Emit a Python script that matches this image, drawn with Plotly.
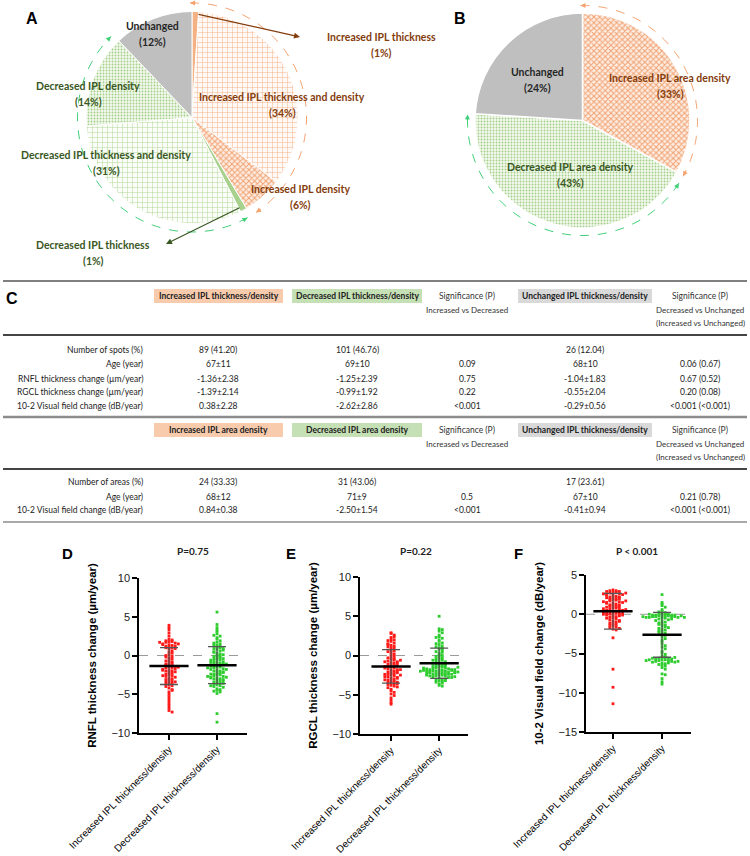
import math
import plotly.graph_objects as go

W, H = 750, 856

# ---------------- panel A / B : pie data ----------------
pieA_labels = ["Increased IPL thickness", "Increased IPL thickness and density", "Increased IPL density",
               "Decreased IPL thickness", "Decreased IPL thickness and density", "Decreased IPL density",
               "Unchanged"]
pieA_values = [1, 34, 6, 1, 31, 14, 12]
pieB_labels = ["Increased IPL area density", "Decreased IPL area density", "Unchanged"]
pieB_values = [33, 43, 24]

# ---------------- panel C : table ----------------
t1_head = ["Increased IPL thickness/density", "Decreased IPL thickness/density", "Unchanged IPL thickness/density"]
t1_rows = ["Number of spots (%)", "Age (year)", "RNFL thickness change (µm/year)",
           "RGCL thickness change (µm/year)", "10-2 Visual field change (dB/year)"]
t1_inc = ["89 (41.20)", "67±11", "-1.36±2.38", "-1.39±2.14", "0.38±2.28"]
t1_dec = ["101 (46.76)", "69±10", "-1.25±2.39", "-0.99±1.92", "-2.62±2.86"]
t1_p_id = ["", "0.09", "0.75", "0.22", "&lt;0.001"]
t1_unc = ["26 (12.04)", "68±10", "-1.04±1.83", "-0.55±2.04", "-0.29±0.56"]
t1_p_du = ["", "0.06 (0.67)", "0.67 (0.52)", "0.20 (0.08)", "&lt;0.001 (&lt;0.001)"]

t2_head = ["Increased IPL area density", "Decreased IPL area density", "Unchanged IPL thickness/density"]
t2_rows = ["Number of areas (%)", "Age (year)", "10-2 Visual field change (dB/year)"]
t2_inc = ["24 (33.33)", "68±12", "0.84±0.38"]
t2_dec = ["31 (43.06)", "71±9", "-2.50±1.54"]
t2_p_id = ["", "0.5", "&lt;0.001"]
t2_unc = ["17 (23.61)", "67±10", "-0.41±0.94"]
t2_p_du = ["", "0.21 (0.78)", "&lt;0.001 (&lt;0.001)"]

# ---------------- panels D-F : scatter dot plots ----------------
groups = ["Increased IPL thickness/density", "Decreased IPL thickness/density"]

rnfl_inc = [3.9, 3.6, 3.3, 2.9, 2.5, 2.1,
            2.0, 1.9, 1.8, 1.8, 1.7, 1.6, 1.5, 1.5, 1.4, 1.3,
            1.2, 1.1, 1.0, 1.0, 0.9, 0.8, 0.6, 0.4,
            0.3, 0.1, -0.1, -0.3, -0.4, -0.6,
            -0.8, -0.9, -1.0, -1.1, -1.2, -1.3, -1.3, -1.4,
            -1.5, -1.6, -1.6, -1.7, -1.8, -1.9, -2.0, -2.0, -2.1, -2.2,
            -2.3, -2.4, -2.5, -2.6, -2.7, -2.8, -2.9, -3.0,
            -3.1, -3.2, -3.3, -3.4, -3.5, -3.6, -3.7, -3.8,
            -3.9, -4.0, -4.2, -4.4, -4.7, -5.0, -5.3, -5.6,
            -5.9, -6.2, -6.5, -6.8, -7.1, -7.3,
            -0.2, -1.5, -2.6, 1.2, 1.7, 0.0, -3.4, -1.9, -4.5, 1.4, -0.7]
rnfl_dec = [5.6, 4.0, 3.6, 3.1, 2.8, 2.5, 2.3, 2.1, 1.9, 1.7,
            1.5, 1.3, 1.2, 1.1, 1.0, 0.9, 0.8, 0.6, 0.5, 0.3,
            0.2, 0.0, -0.1, -0.2, -0.3, -0.4, -0.5, -0.6, -0.7, -0.8,
            -0.9, -1.0, -1.0, -1.1, -1.2, -1.3, -1.4, -1.5, -1.5, -1.6,
            -1.7, -1.8, -1.9, -2.0, -2.0, -2.1, -2.2, -2.3, -2.4, -2.5,
            -2.5, -2.6, -2.7, -2.8, -2.9, -3.0, -3.0, -3.1, -3.2, -3.3,
            -3.4, -3.5, -3.6, -3.7, -3.8, -3.9, -4.0, -4.1, -4.3, -4.5,
            -4.7, -4.9, -7.5, -8.6,
            1.4, 0.7, -0.4, -1.2, -2.2, -2.8, -3.3, 1.6, -0.9, -1.8,
            2.6, -2.4, -3.6, -4.4, 0.4, -1.4, 3.3, -0.1, -2.7, -1.6,
            0.1, -3.9, -2.9, -1.1, 0.9, -4.6, -0.6]
rgcl_inc = [2.9, 2.8, 2.6, 2.3, 2.1, 2.0, 1.9, 1.8, 1.6, 1.5,
            1.3, 1.2, 1.0, 0.9, 0.7, 0.6, 0.4, 0.2, 0.1, -0.1,
            -0.2, -0.4, -0.5, -0.6, -0.7, -0.8, -0.9, -1.0, -1.1, -1.2,
            -1.3, -1.4, -1.5, -1.6, -1.7, -1.8, -1.9, -2.0, -2.1, -2.2,
            -2.3, -2.4, -2.5, -2.6, -2.7, -2.8, -2.9, -3.0, -3.1, -3.2,
            -3.3, -3.4, -3.5, -3.6, -3.7, -3.8, -3.9, -4.1, -4.3, -4.5,
            -4.7, -4.9, -5.1, -5.4, -5.7, -6.0, -6.2,
            -1.3, -2.0, -2.7, -3.4, -1.6, 0.5, 1.4, -0.3, -2.2, -2.9,
            -1.0, -3.1, -0.8, 1.1, -1.8, -2.5, -4.0, -0.6, -3.6, 2.4, -1.4, -2.4]
rgcl_dec = [5.0, 3.4, 3.3, 3.1, 2.9, 2.6, 2.4, 2.2, 2.0, 1.8,
            1.6, 1.4, 1.2, 1.0, 0.8, 0.7, 0.5, 0.3, 0.1, 0.0,
            -0.2, -0.3, -0.5, -0.6, -0.7, -0.8, -0.9, -1.0, -1.1, -1.2,
            -1.3, -1.4, -1.5, -1.5, -1.6, -1.6, -1.7, -1.7, -1.8, -1.8,
            -1.9, -1.9, -2.0, -2.0, -2.0, -2.1, -2.1, -2.2, -2.2, -2.3,
            -2.3, -2.4, -2.4, -2.5, -2.5, -2.6, -2.6, -2.7, -2.8, -2.9,
            -3.0, -3.1, -3.2, -3.3, -3.4, -3.6, -3.8, -3.9,
            -1.9, -2.0, -2.1, -1.7, -2.2, -2.4, -1.8, -2.6, -2.3, -1.6,
            -0.4, -1.1, 0.9, 1.5, -2.8, -3.0, -1.3, -0.1, 2.3, -2.5,
            -1.9, -2.1, -3.5, -1.4, 0.4, -2.7, -1.0, -2.2, 1.1, -3.2, -2.0, -1.5, -0.6]
vf_inc = [3.1, 3.0, 3.0, 2.9, 2.9, 2.8, 2.8, 2.7, 2.6, 2.5,
          2.5, 2.4, 2.3, 2.2, 2.2, 2.1, 2.0, 1.9, 1.8, 1.8,
          1.7, 1.6, 1.5, 1.5, 1.4, 1.3, 1.2, 1.1, 1.0, 1.0,
          0.9, 0.8, 0.8, 0.7, 0.6, 0.5, 0.5, 0.4, 0.4, 0.3,
          0.3, 0.2, 0.2, 0.1, 0.1, 0.0, 0.0, -0.1, -0.1, -0.2,
          -0.3, -0.4, -0.5, -0.6, -0.7, -0.8, -0.9, -1.0, -1.1, -1.2,
          -1.3, -1.4, -1.5, -1.6, -1.7, -1.8, -1.9, -2.0, -3.0, -7.0,
          -9.3, -11.4,
          2.6, 2.4, 2.0, 1.6, 1.2, 0.7, 0.3, 0.6, 1.4, 2.1, -0.2, -0.5, -0.9, 0.9, 1.7, 2.7, 0.0]
vf_dec = [2.5, 1.5, 1.3, 1.1, 0.9, 0.6, 0.4, 0.2, 0.1, 0.0,
          0.0, 0.0, -0.1, -0.1, -0.1, -0.2, -0.2, -0.2, -0.2, -0.3,
          -0.3, -0.3, -0.3, -0.4, -0.4, -0.4, -0.5, -0.5, -0.6, -0.7,
          -0.8, -0.9, -1.0, -1.1, -1.2, -1.4, -1.5, -1.6, -1.8, -1.9,
          -2.0, -2.1, -2.2, -2.4, -2.5, -2.7, -2.9, -3.1, -3.3, -3.5,
          -3.8, -4.0, -4.2, -4.4, -4.7, -4.9, -5.1, -5.3, -5.4, -5.5,
          -5.5, -5.6, -5.6, -5.7, -5.7, -5.8, -5.8, -5.9, -5.9, -6.0,
          -6.0, -6.1, -6.1, -6.2, -6.3, -6.4, -6.5, -6.6, -6.8, -7.0,
          -7.6, -7.7, -8.2, -8.6, -8.9,
          -0.1, -0.2, -0.3, 0.0, -0.4, -5.6, -5.8, -6.0, -5.5, -6.2, -1.3, -2.3, -0.6, 0.3, -1.7, -5.9]

# mean and SD bars come from the table
rnfl_mean, rnfl_sd = [-1.36, -1.25], [2.38, 2.39]
rgcl_mean, rgcl_sd = [-1.39, -0.99], [2.14, 1.92]
vf_mean, vf_sd = [0.38, -2.62], [2.28, 2.86]

# ---------------- helpers ----------------
def px(x):
    return x / W

def py(y):
    return 1 - y / H

ORANGE = "#F4B183"
GREEN = "#A9D18E"
GRAY = "#BFBFBF"
RED_TXT = "#843C0C"
GREEN_TXT = "#385723"
CAL = "Lato, Carlito, Calibri, sans-serif"
ARIAL = "Liberation Sans, Arial, sans-serif"

fig = go.Figure()
annotations = []
shapes = []

def note(x, y, text, size=10.5, color="black", bold=False, family=CAL, xanchor="center", **kw):
    annotations.append(dict(x=px(x), y=py(y), xref="paper", yref="paper", text=text, showarrow=False,
                            xanchor=xanchor, yanchor="middle",
                            font=dict(family=family, size=size, color=color, weight="bold" if bold else "normal"),
                            **kw))

# ---------------- pies ----------------
fig.add_trace(go.Pie(
    values=pieA_values, labels=pieA_labels, sort=False, direction="clockwise", rotation=0,
    textinfo="none", hoverinfo="label+percent", showlegend=False,
    domain=dict(x=[px(86), px(298)], y=[py(223.5), py(11.5)]),
    marker=dict(colors=[ORANGE, "white", "white", GREEN, "white", "white", GRAY],
                line=dict(color="white", width=1),
                pattern=dict(shape=["", "+", "x", "", "+", ".", ""],
                             fgcolor=[ORANGE, "#F6B48C", "#F2A373", GREEN, "#B5D99C", "#A3CF87", GRAY],
                             bgcolor=[ORANGE, "#FFFAF7", "#FDEDE3", GREEN, "#FAFDF8", "#F3F9EF", GRAY],
                             size=[8, 5, 4, 8, 5, 3, 8], solidity=[0.3, 0.2, 0.45, 0.3, 0.2, 0.3, 0.3],
                             fillmode="replace")),
))
fig.add_trace(go.Pie(
    values=pieB_values, labels=pieB_labels, sort=False, direction="clockwise", rotation=0,
    textinfo="none", hoverinfo="label+percent", showlegend=False,
    domain=dict(x=[px(475), px(690)], y=[py(228), py(13)]),
    marker=dict(colors=["white", "white", GRAY], line=dict(color="white", width=1.5),
                pattern=dict(shape=["x", ".", ""],
                             fgcolor=["#F2A373", "#A3CF87", GRAY],
                             bgcolor=["#FDEDE3", "#F3F9EF", GRAY],
                             size=[4, 3, 8], solidity=[0.45, 0.3, 0.3], fillmode="replace")),
))

# dashed arcs with arrowheads around the pies
def arc(cx, cy, r, a0, a1, color):
    pts = []
    n = 80
    for i in range(n + 1):
        a = math.radians(a0 + (a1 - a0) * i / n)
        pts.append((cx + r * math.sin(a), cy - r * math.cos(a)))
    path = "M " + " L ".join(f"{px(x):.5f},{py(y):.5f}" for x, y in pts)
    shapes.append(dict(type="path", path=path, xref="paper", yref="paper",
                       line=dict(color=color, width=1, dash="dash")))
    for a, sgn in ((a0, 1), (a1, -1)):
        t = math.radians(a)
        hx, hy = cx + r * math.sin(t), cy - r * math.cos(t)
        annotations.append(dict(x=px(hx), y=py(hy), xref="paper", yref="paper", text="",
                                showarrow=True, arrowhead=2, arrowsize=1, arrowwidth=1, arrowcolor=color,
                                ax=sgn * 7 * math.cos(t), ay=sgn * 7 * math.sin(t)))

ARC_OR = "#F4A26E"
ARC_GR = "#3FCF77"
arc(192, 117.5, 114.5, -1, 146, ARC_OR)
arc(192, 117.5, 114.5, 151, 315, ARC_GR)
arc(582.5, 120.5, 115, -1, 119, ARC_OR)
arc(582.5, 120.5, 115, 123, 273, ARC_GR)

# pie labels (name, percent)
pieA_pct = ["(1%)", "(34%)", "(6%)", "(1%)", "(31%)", "(14%)", "(12%)"]
pieA_pos = [(381, 37), (282, 97), (300, 189), (93, 245), (106, 155), (88, 86), (152, 26)]
pieA_col = [RED_TXT, RED_TXT, RED_TXT, GREEN_TXT, GREEN_TXT, GREEN_TXT, "#262626"]
for lab, pct, (x, y), c in zip(pieA_labels, pieA_pct, pieA_pos, pieA_col):
    note(x, y, lab, color=c, bold=True)
    note(x, y + 16, pct, color=c, bold=True)

pieB_pct = ["(33%)", "(43%)", "(24%)"]
pieB_pos = [(670, 78), (570, 167), (537, 72)]
pieB_col = [RED_TXT, GREEN_TXT, "#262626"]
for lab, pct, (x, y), c in zip(pieB_labels, pieB_pct, pieB_pos, pieB_col):
    note(x, y, lab, color=c, bold=True)
    note(x, y + 16, pct, color=c, bold=True)

# pointer arrows for the 1% slices
annotations.append(dict(x=px(300), y=py(37), xref="paper", yref="paper", text="", showarrow=True,
                        arrowhead=2, arrowsize=1, arrowwidth=1.2, arrowcolor=RED_TXT, ax=-103, ay=-23))
annotations.append(dict(x=px(166), y=py(244), xref="paper", yref="paper", text="", showarrow=True,
                        arrowhead=2, arrowsize=1, arrowwidth=1.2, arrowcolor=GREEN_TXT, ax=75, ay=-37))

note(32, 18, "A", size=16, bold=True, family=ARIAL)
note(460, 18, "B", size=16, bold=True, family=ARIAL)

# ---------------- table C ----------------
note(12, 298, "C", size=16, bold=True, family=ARIAL)
col_x = [218, 357, 467, 585, 700]
head_fill = ["#F8CBAD", "#C5E0B4", "#D9D9D9"]
head_box = [(154, 283), (292, 422), (518, 652)]
TFS = 8.5

def table_block(y_head, heads, rows, cols, y_rows):
    for (x0, x1), f, h in zip(head_box, head_fill, heads):
        shapes.append(dict(type="rect", xref="paper", yref="paper", x0=px(x0), x1=px(x1),
                           y0=py(y_head + 7), y1=py(y_head - 7), fillcolor=f, line=dict(width=0)))
        note((x0 + x1) / 2, y_head, h, size=TFS, bold=True, color="#222")
    note(col_x[2], y_head, "Significance (P)", size=TFS, color="#333")
    note(col_x[2], y_head + 14, "Increased vs Decreased", size=TFS - 0.5, color="#333")
    note(col_x[4], y_head, "Significance (P)", size=TFS, color="#333")
    note(col_x[4], y_head + 14, "Decreased vs Unchanged", size=TFS - 0.5, color="#333")
    note(col_x[4], y_head + 27, "(Increased vs Unchanged)", size=TFS - 0.5, color="#333")
    for i, (lab, y) in enumerate(zip(rows, y_rows)):
        note(145, y, lab, size=TFS, color="#222", xanchor="right")
        for cx, col in zip(col_x, cols):
            note(cx, y, col[i], size=TFS, color="#222")

table_block(296, t1_head, t1_rows, [t1_inc, t1_dec, t1_p_id, t1_unc, t1_p_du], [350, 364, 379, 392, 406])
table_block(430, t2_head, t2_rows, [t2_inc, t2_dec, t2_p_id, t2_unc, t2_p_du], [482, 497, 510])

for y, c, w in [(281, "#555555", 1.5), (335, "#444444", 2), (417, "#8C8C8C", 2.5),
                (469, "#444444", 2), (522, "#8C8C8C", 1.5)]:
    shapes.append(dict(type="line", xref="paper", yref="paper", x0=px(3), x1=px(747),
                       y0=py(y), y1=py(y), line=dict(color=c, width=w)))

# ---------------- scatter panels D-F ----------------
def swarm_x(values, center, bin_w=0.33, step=0.065):
    used = {}
    xs = []
    for v in values:
        b = round(v / bin_w)
        k = used.get(b, 0)
        used[b] = k + 1
        off = ((k + 1) // 2) * step * (1 if k % 2 else -1)
        xs.append(center + off)
    return xs

panels = [
    dict(letter="D", n="", ptxt="P=0.75", data=(rnfl_inc, rnfl_dec), mean=rnfl_mean, sd=rnfl_sd,
         title="RNFL thickness change (µm/year)", xd=(139, 247), yd=(578, 733), yr=[-10, 10],
         xr=[-0.625, 1.625], lx=67, px_=193),
    dict(letter="E", n="2", ptxt="P=0.22", data=(rgcl_inc, rgcl_dec), mean=rgcl_mean, sd=rgcl_sd,
         title="RGCL thickness change (µm/year)", xd=(360, 468), yd=(577, 734), yr=[-10, 10],
         xr=[-0.646, 1.6], lx=291, px_=416),
    dict(letter="F", n="3", ptxt="P &lt; 0.001", data=(vf_inc, vf_dec), mean=vf_mean, sd=vf_sd,
         title="10-2 Visual field change (dB/year)", xd=(586, 691), yd=(575, 732), yr=[-15, 5],
         xr=[-0.55, 1.59], lx=518, px_=637),
]

colors = ["#FF1A1A", "#2ECC2E"]
for p in panels:
    xa, ya = "x" + p["n"], "y" + p["n"]
    for gi, vals in enumerate(p["data"]):
        fig.add_trace(go.Scatter(x=swarm_x(vals, gi), y=vals, mode="markers", xaxis=xa, yaxis=ya,
                                 marker=dict(symbol="square", size=2.8, color=colors[gi], line=dict(width=0)),
                                 showlegend=False, hoverinfo="y"))
    fig.add_trace(go.Scatter(x=[0, 1], y=p["mean"], mode="markers", xaxis=xa, yaxis=ya, showlegend=False,
                             marker=dict(symbol="line-ew", size=28, color="black",
                                         line=dict(color="black", width=2.5)),
                             error_y=dict(type="data", array=p["sd"], visible=True, color="#555555",
                                          thickness=1.3, width=9)))
    shapes.append(dict(type="line", xref=xa + " domain", yref=ya, x0=0, x1=1, y0=0, y1=0,
                       line=dict(color="#9A9A9A", width=1, dash="dash"), layer="below"))
    axis_common = dict(showline=True, linecolor="black", linewidth=1.5, ticks="outside", ticklen=5,
                       tickwidth=1.5, tickcolor="black", showgrid=False, zeroline=False, automargin=False)
    fig.layout["xaxis" + p["n"]] = dict(domain=[px(p["xd"][0]), px(p["xd"][1])], range=p["xr"],
                                        tickvals=[0, 1], ticktext=groups, tickangle=-45, anchor=ya,
                                        tickfont=dict(family=ARIAL, size=10, color="black"), **axis_common)
    fig.layout["yaxis" + p["n"]] = dict(domain=[py(p["yd"][1]), py(p["yd"][0])], range=p["yr"], dtick=5,
                                        anchor=xa, tickfont=dict(family=ARIAL, size=11, color="#222"),
                                        title=dict(text=p["title"], standoff=12,
                                                   font=dict(family=ARIAL, size=11.5, color="black", weight="bold")),
                                        **axis_common)
    note(p["lx"], 553, p["letter"], size=15, bold=True, family=ARIAL)
    note(p["px_"], 551, p["ptxt"], size=10, bold=True, color="#222")

fig.update_layout(width=W, height=H, margin=dict(l=0, r=0, t=0, b=0, autoexpand=False), paper_bgcolor="white",
                  plot_bgcolor="white", showlegend=False, annotations=annotations, shapes=shapes)

fig.write_html("out.html", config={"displayModeBar": False},
               post_script="document.body.style.margin='0';")
